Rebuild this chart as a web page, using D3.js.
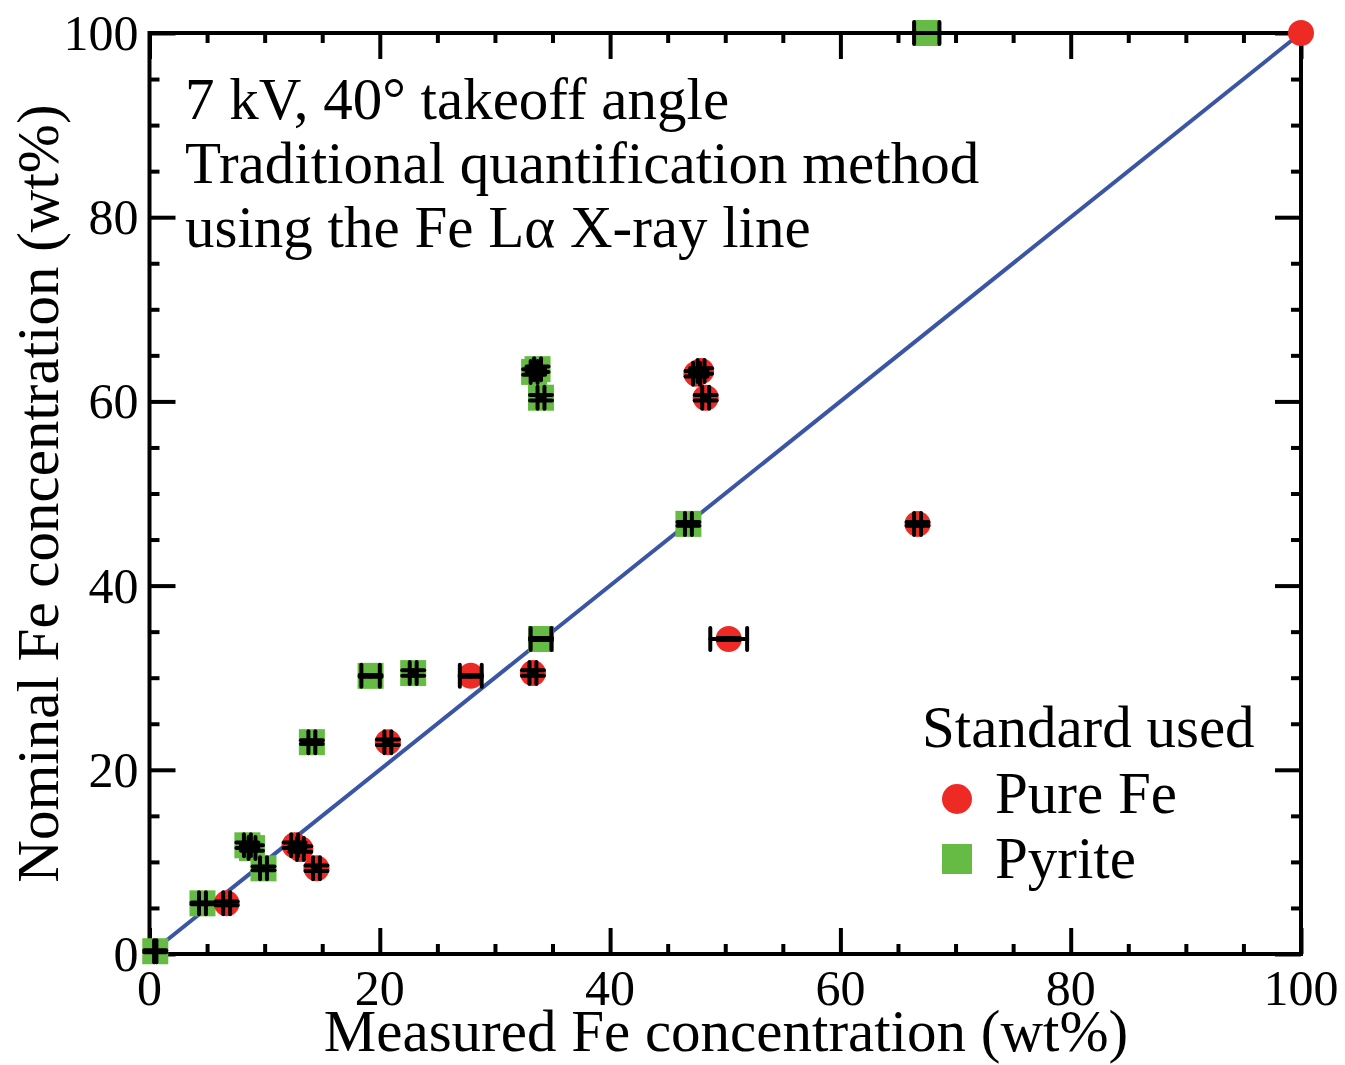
<!DOCTYPE html>
<html>
<head>
<meta charset="utf-8">
<script src="https://cdn.jsdelivr.net/npm/d3@7"></script>
<style>
  body { margin: 0; background: #fff; }
  text { font-family: "Liberation Serif", "Times New Roman", serif; fill: #000; }
</style>
</head>
<body>
<div id="chart"></div>
<script>
(function(){
	var W = 1345, H = 1065;
	var margin = { top: 33, right: 44, bottom: 111, left: 149.5 };

	// Pure Fe standard: measured, nominal, x error, y error
	var fe_x    = [6.7, 12.6, 13.1, 14.5, 20.7, 27.9, 33.3, 50.3, 47.5, 47.9, 48.3, 66.7, 100];
	var fe_y    = [5.5, 11.8, 11.4, 9.3, 23.0, 30.2, 30.5, 34.2, 63.0, 63.3, 60.4, 46.7, 100];
	var fe_xerr = [0.3, 0.3, 0.3, 0.3, 0.3, 0.95, 0.3, 1.6, 0.3, 0.3, 0.3, 0.3, 0];
	var fe_yerr = [0.2, 0.3, 0.3, 0.3, 0.3, 0.1, 0.3, 0.1, 0.3, 0.3, 0.3, 0.2, 0];

	// Pyrite standard
	var py_x    = [0.5, 4.6, 8.5, 8.9, 9.9, 14.1, 19.2, 22.9, 33.4, 33.7, 34.0, 34.0, 46.8, 67.5];
	var py_y    = [0.3, 5.5, 11.8, 11.5, 9.3, 23.0, 30.2, 30.5, 63.2, 63.5, 60.4, 34.2, 46.7, 100];
	var py_xerr = [0.1, 0.3, 0.3, 0.3, 0.3, 0.3, 0.8, 0.3, 0.3, 0.3, 0.3, 0.9, 0.3, 1.1];
	var py_yerr = [0.1, 0.1, 0.3, 0.3, 0.2, 0.2, 0.1, 0.3, 0.3, 0.3, 0.3, 0.1, 0.2, 0];

	var xTicks = [0, 20, 40, 60, 80, 100];
	var yTicks = [0, 20, 40, 60, 80, 100];
	var notes = ["7 kV, 40\u00b0 takeoff angle", "Traditional quantification method", "using the Fe L\u03b1 X-ray line"];

	var red = "#ee2a24", green = "#66bb44", blue = "#3a55a4";

	var svg = d3.select("#chart").append("svg")
		.attr("width", W).attr("height", H);

	var x = d3.scaleLinear().domain([0, 100]).range([margin.left, W - margin.right]);
	var y = d3.scaleLinear().domain([0, 100]).range([H - margin.bottom, margin.top]);

	var minor = d3.range(0, 101, 5).filter(function(d){ return d % 20 !== 0; });

	// inward ticks on all four sides
	function tickSet(axisFn, scale, len, vals, tr) {
		svg.append("g").attr("transform", tr)
			.call(axisFn(scale).tickValues(vals).tickSize(-len).tickFormat(""))
			.call(function(g){ g.select(".domain").remove(); g.selectAll("line").attr("stroke-width", 4).attr("stroke", "#000"); });
	}
	var x0 = x(0), x1 = x(100), y0 = y(0), y1 = y(100);
	tickSet(d3.axisBottom, x, 26, xTicks, "translate(0," + y0 + ")");
	tickSet(d3.axisBottom, x, 10, minor, "translate(0," + y0 + ")");
	tickSet(d3.axisTop, x, 26, xTicks, "translate(0," + y1 + ")");
	tickSet(d3.axisTop, x, 10, minor, "translate(0," + y1 + ")");
	tickSet(d3.axisLeft, y, 26, yTicks, "translate(" + x0 + ",0)");
	tickSet(d3.axisLeft, y, 10, minor, "translate(" + x0 + ",0)");
	tickSet(d3.axisRight, y, 26, yTicks, "translate(" + x1 + ",0)");
	tickSet(d3.axisRight, y, 10, minor, "translate(" + x1 + ",0)");

	svg.append("rect")
		.attr("x", x0).attr("y", y1).attr("width", x1 - x0).attr("height", y0 - y1)
		.attr("fill", "none").attr("stroke", "#000").attr("stroke-width", 4);

	// tick labels
	svg.selectAll(".xl").data(xTicks).enter().append("text")
		.attr("x", function(d){ return x(d); }).attr("y", y0 + 51)
		.attr("text-anchor", "middle").style("font-size", "50px")
		.text(function(d){ return d; });
	svg.selectAll(".yl").data(yTicks).enter().append("text")
		.attr("x", x0 - 11).attr("y", function(d){ return y(d) + 17; })
		.attr("text-anchor", "end").style("font-size", "50px")
		.text(function(d){ return d; });

	// axis titles
	svg.append("text").attr("x", 726).attr("y", 1051)
		.attr("text-anchor", "middle").style("font-size", "59px")
		.text("Measured Fe concentration (wt%)");
	svg.append("text")
		.attr("transform", "translate(58," + ((y0 + y1) / 2) + ") rotate(-90)")
		.attr("text-anchor", "middle").style("font-size", "59px")
		.text("Nominal Fe concentration (wt%)");

	// 1:1 line
	svg.append("line")
		.attr("x1", x(0)).attr("y1", y(0)).attr("x2", x(100)).attr("y2", y(100))
		.attr("stroke", blue).attr("stroke-width", 4);

	function pts(xs, ys, xe, ye) {
		return xs.map(function(d, i){ return { x: d, y: ys[i], xe: xe[i], ye: ye[i] }; });
	}
	var fe = pts(fe_x, fe_y, fe_xerr, fe_yerr);
	var py = pts(py_x, py_y, py_xerr, py_yerr);

	svg.selectAll(".py").data(py).enter().append("rect")
		.attr("x", function(d){ return x(d.x) - 13; }).attr("y", function(d){ return y(d.y) - 13; })
		.attr("width", 26).attr("height", 26).attr("fill", green);
	svg.selectAll(".fe").data(fe).enter().append("circle")
		.attr("cx", function(d){ return x(d.x); }).attr("cy", function(d){ return y(d.y); })
		.attr("r", 13).attr("fill", red);

	// error bars
	var cap = 11;
	var eb = svg.append("g").attr("stroke", "#000").attr("stroke-width", 4).attr("stroke-linecap", "round");
	fe.concat(py).forEach(function(d){
		if (d.xe === 0 && d.ye === 0) return;
		var cx = x(d.x), cy = y(d.y);
		var xl = x(d.x - d.xe), xr = x(d.x + d.xe);
		var yt = y(d.y + d.ye), yb = y(d.y - d.ye);
		eb.append("line").attr("x1", xl).attr("x2", xr).attr("y1", cy).attr("y2", cy);
		eb.append("line").attr("x1", xl).attr("x2", xl).attr("y1", cy - cap).attr("y2", cy + cap);
		eb.append("line").attr("x1", xr).attr("x2", xr).attr("y1", cy - cap).attr("y2", cy + cap);
		eb.append("line").attr("x1", cx).attr("x2", cx).attr("y1", yt).attr("y2", yb);
		eb.append("line").attr("x1", cx - cap).attr("x2", cx + cap).attr("y1", yt).attr("y2", yt);
		eb.append("line").attr("x1", cx - cap).attr("x2", cx + cap).attr("y1", yb).attr("y2", yb);
	});

	// annotation
	svg.selectAll(".note").data(notes).enter().append("text")
		.attr("x", 185).attr("y", function(d, i){ return 119 + i * 64; })
		.style("font-size", "59px")
		.text(function(d){ return d; });

	// legend
	svg.append("text").attr("x", 922).attr("y", 747).style("font-size", "59px").text("Standard used");
	svg.append("circle").attr("cx", 957).attr("cy", 799).attr("r", 15).attr("fill", red);
	svg.append("text").attr("x", 995).attr("y", 813).style("font-size", "59px").text("Pure Fe");
	svg.append("rect").attr("x", 942).attr("y", 844).attr("width", 30).attr("height", 30).attr("fill", green);
	svg.append("text").attr("x", 995).attr("y", 878).style("font-size", "59px").text("Pyrite");
})();
</script>
</body>
</html>
